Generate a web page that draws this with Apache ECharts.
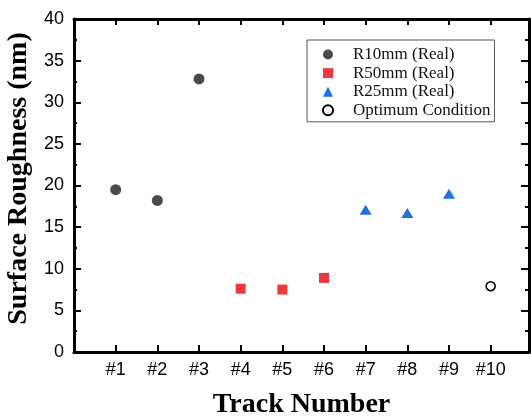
<!DOCTYPE html>
<html>
<head>
<meta charset="utf-8">
<script src="https://cdn.jsdelivr.net/npm/echarts@6/dist/echarts.min.js"></script>
<style>html,body{margin:0;padding:0;background:#fff}#c{width:531px;height:418px}</style>
</head>
<body>
<div id="c"></div>
<script>
var trackLabels = ['#1','#2','#3','#4','#5','#6','#7','#8','#9','#10'];
var r10Tracks = [1, 2, 3];
var r10Values = [19.5, 18.2, 32.8];
var r50Tracks = [4, 5, 6];
var r50Values = [7.6, 7.5, 8.9];
var r25Tracks = [7, 8, 9];
var r25Values = [17.1, 16.7, 19.0];
var optTracks = [10];
var optValues = [7.9];
var yTicks = [0, 5, 10, 15, 20, 25, 30, 35, 40];

function pairs(xs, ys) { return xs.map(function (x, i) { return [x, ys[i]]; }); }

var chart = echarts.init(document.getElementById('c'));
var serif = '"Liberation Serif", "DejaVu Serif", serif';
var sans = '"Liberation Sans", Arial, sans-serif';
var xMax = 10.92;
chart.setOption({
  animation: false,
  backgroundColor: '#fff',
  grid: {left: 74, right: 2, top: 19, bottom: 66, containLabel: false, outerBoundsMode: 'none'},
  legend: {
    orient: 'vertical', left: 307, top: 40,
    padding: [6, 4, 3, 15],
    itemGap: 1.6, itemWidth: 10, itemHeight: 10,
    borderColor: '#555', borderWidth: 1,
    textStyle: {fontFamily: serif, fontSize: 17, color: '#111', lineHeight: 17, padding: [0, 0, 0, 15]},
    data: ['R10mm (Real)', 'R50mm (Real)', 'R25mm (Real)', 'Optimum Condition']
  },
  xAxis: [{
    type: 'value', position: 'bottom', min: 0, max: xMax, interval: 1,
    name: 'Track Number', nameLocation: 'middle', nameGap: 39,
    nameTextStyle: {fontFamily: serif, fontSize: 28, fontWeight: 'bold', color: '#000'},
    axisLine: {show: true, onZero: false, lineStyle: {color: '#000', width: 3}},
    axisTick: {show: true, inside: true, length: 7, lineStyle: {color: '#000', width: 2}},
    axisLabel: {margin: 9, fontFamily: sans, fontSize: 18, color: '#000',
      formatter: function (v) { return Number.isInteger(v) && v >= 1 && v <= trackLabels.length ? trackLabels[v - 1] : ''; }},
    splitLine: {show: false}
  }, {
    type: 'value', position: 'top', min: 0, max: xMax, interval: 1,
    axisLine: {show: true, onZero: false, lineStyle: {color: '#000', width: 3}},
    axisTick: {show: true, inside: true, length: 6, lineStyle: {color: '#000', width: 2}},
    axisLabel: {show: false},
    splitLine: {show: false}
  }],
  yAxis: [{
    type: 'value', position: 'left', min: yTicks[0], max: yTicks[yTicks.length - 1], interval: 5,
    name: 'Surface Roughness (nm)', nameLocation: 'middle', nameGap: 41, nameRotate: 90,
    nameTextStyle: {fontFamily: serif, fontSize: 28, fontWeight: 'bold', color: '#000', padding: [0, 0, 0, 14]},
    axisLine: {show: true, onZero: false, lineStyle: {color: '#000', width: 3}},
    axisTick: {show: true, inside: true, length: 7, lineStyle: {color: '#000', width: 2}},
    minorTick: {show: true, splitNumber: 2, length: 3, lineStyle: {color: '#000', width: 2}},
    axisLabel: {margin: 10, fontFamily: sans, fontSize: 18, color: '#000'},
    splitLine: {show: false}, minorSplitLine: {show: false}
  }, {
    type: 'value', position: 'right', min: yTicks[0], max: yTicks[yTicks.length - 1], interval: 5,
    axisLine: {show: true, onZero: false, lineStyle: {color: '#000', width: 3}},
    axisTick: {show: true, inside: true, length: 8, lineStyle: {color: '#000', width: 2}},
    minorTick: {show: true, splitNumber: 2, length: 4, lineStyle: {color: '#000', width: 2}},
    axisLabel: {show: false},
    splitLine: {show: false}, minorSplitLine: {show: false}
  }],
  series: [{
    name: 'R10mm (Real)', type: 'scatter', symbol: 'circle', symbolSize: 11,
    itemStyle: {color: '#4a4a4a', opacity: 1}, data: pairs(r10Tracks, r10Values)
  }, {
    name: 'R50mm (Real)', type: 'scatter', symbol: 'rect', symbolSize: 10,
    itemStyle: {color: '#ee3a3c', opacity: 1}, data: pairs(r50Tracks, r50Values)
  }, {
    name: 'R25mm (Real)', type: 'scatter', symbol: 'triangle', symbolSize: [12, 10],
    itemStyle: {color: '#1f6fdc', opacity: 1}, data: pairs(r25Tracks, r25Values)
  }, {
    name: 'Optimum Condition', type: 'scatter', symbol: 'circle', symbolSize: 9,
    itemStyle: {color: '#fff', borderColor: '#000', borderWidth: 1.6, opacity: 1}, data: pairs(optTracks, optValues)
  }]
});
</script>
</body>
</html>
